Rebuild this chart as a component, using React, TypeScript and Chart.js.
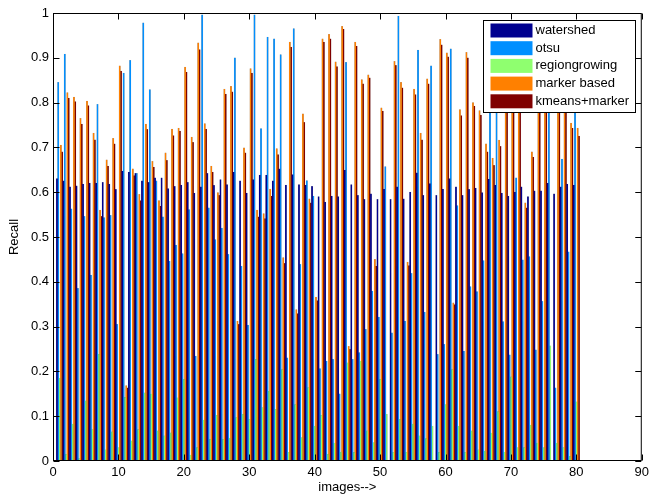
import React, { useEffect, useRef } from 'react';
import { Chart, registerables } from 'chart.js';

Chart.register(...registerables);

const imageIds: number[] = Array.from({ length: 80 }, (_, i) => i + 1);

const seriesNames = ['watershed', 'otsu', 'regiongrowing', 'marker based', 'kmeans+marker'];
const seriesColors = ['rgb(0,0,143)', 'rgb(0,143,255)', 'rgb(143,255,111)', 'rgb(255,128,0)', 'rgb(128,0,0)'];

const watershed = [
  0.63, 0.625, 0.612, 0.614, 0.618, 0.62, 0.62, 0.622, 0.618, 0.606,
  0.647, 0.645, 0.642, 0.625, 0.622, 0.632, 0.632, 0.608, 0.613, 0.616,
  0.622, 0.598, 0.612, 0.642, 0.615, 0.628, 0.617, 0.645, 0.625, 0.598,
  0.628, 0.638, 0.638, 0.625, 0.652, 0.616, 0.639, 0.617, 0.616, 0.613,
  0.59, 0.578, 0.591, 0.59, 0.649, 0.617, 0.593, 0.584, 0.596, 0.584,
  0.607, 0.584, 0.612, 0.585, 0.6, 0.643, 0.593, 0.619, 0.593, 0.607,
  0.63, 0.612, 0.593, 0.606, 0.609, 0.599, 0.629, 0.616, 0.598, 0.591,
  0.6, 0.612, 0.59, 0.603, 0.603, 0.62, 0.596, 0.612, 0.618, 0.616,
];

const otsu = [
  0.845, 0.908, 0.563, 0.385, 0.546, 0.415, 0.796, 0.543, 0.548, 0.305,
  0.866, 0.894, 0.642, 0.978, 0.829, 0.625, 0.545, 0.446, 0.482, 0.463,
  0.561, 0.234, 0.996, 0.565, 0.494, 0.52, 0.461, 0.9, 0.435, 0.303,
  0.996, 0.742, 0.946, 0.942, 0.907, 0.23, 0.965, 0.439, 0.626, 0.591,
  0.206, 0.223, 0.227, 0.15, 0.89, 0.227, 0.242, 0.294, 0.379, 0.321,
  0.657, 0.286, 0.993, 0.312, 0.419, 0.917, 0.332, 0.882, 0.238, 0.26,
  0.92, 0.57, 0.245, 0.389, 0.378, 0.447, 0.88, 0.86, 0.311, 0.237,
  0.632, 0.449, 0.456, 0.248, 0.356, 0.9, 0.163, 0.674, 0.467, 0.8,
];

const regiongrowing = [
  0.185, 0.015, 0.082, 0.005, 0.134, 0.07, 0.238, 0.025, 0.065, 0.03,
  0.142, 0.045, 0.07, 0.152, 0.149, 0.067, 0.056, 0.063, 0.141, 0.182,
  0.013, 0.03, 0.091, 0.048, 0.102, 0.048, 0.051, 0.097, 0.104, 0.093,
  0.227, 0.119, 0.156, 0.115, 0.204, 0.019, 0.126, 0.052, 0.164, 0.078,
  0.102, 0.015, 0.04, 0.02, 0.219, 0.019, 0.223, 0.067, 0.041, 0.182,
  0.104, 0.019, 0.093, 0.019, 0.082, 0.056, 0.05, 0.078, 0.019, 0.126,
  0.204, 0.078, 0.019, 0.067, 0.025, 0.022, 0.062, 0.11, 0.02, 0.188,
  0.03, 0.03, 0.08, 0.04, 0.03, 0.257, 0.04, 0.03, 0.01, 0.132,
];

const markerBased = [
  0.705, 0.822, 0.812, 0.765, 0.803, 0.732, 0.56, 0.672, 0.72, 0.882,
  0.168, 0.652, 0.595, 0.752, 0.669, 0.581, 0.688, 0.741, 0.743, 0.879,
  0.723, 0.933, 0.753, 0.658, 0.599, 0.83, 0.836, 0.312, 0.699, 0.876,
  0.56, 0.552, 0.607, 0.697, 0.454, 0.935, 0.338, 0.775, 0.585, 0.366,
  0.942, 0.952, 0.891, 0.97, 0.256, 0.935, 0.851, 0.862, 0.45, 0.788,
  0, 0.892, 0.845, 0.444, 0.83, 0.732, 0.853, 0, 0.941, 0.911,
  0.353, 0.784, 0.912, 0.8, 0.782, 0.708, 0.676, 0.716, 0.92, 0.9,
  0.94, 0.576, 0.69, 0.88, 0.86, 0, 0.92, 0.87, 0.754, 0.743,
];

const kmeansMarker = [
  0.69, 0.81, 0.802, 0.752, 0.793, 0.717, 0.546, 0.658, 0.708, 0.87,
  0.163, 0.637, 0.581, 0.74, 0.656, 0.569, 0.671, 0.726, 0.736, 0.868,
  0.711, 0.918, 0.741, 0.645, 0.593, 0.819, 0.824, 0.305, 0.688, 0.866,
  0.545, 0.541, 0.591, 0.684, 0.441, 0.924, 0.329, 0.756, 0.576, 0.358,
  0.935, 0.942, 0.88, 0.964, 0.249, 0.926, 0.842, 0.855, 0.435, 0.781,
  0, 0.883, 0.833, 0.436, 0.818, 0.717, 0.842, 0, 0.929, 0.902,
  0.349, 0.771, 0.9, 0.792, 0.772, 0.69, 0.66, 0.702, 0.91, 0.89,
  0.93, 0.565, 0.678, 0.87, 0.85, 0, 0.91, 0.86, 0.743, 0.725,
];

const seriesValues = [watershed, otsu, regiongrowing, markerBased, kmeansMarker];

const xMin = 0;
const xMax = 90;
const xStep = 10;
const yMin = 0;
const yMax = 1;
const yStep = 0.1;
const xTitle = 'images-->';
const yTitle = 'Recall';

const FONT = "'Liberation Sans', Arial, Helvetica, sans-serif";

const framePlugin = {
  id: 'matlabFrame',
  afterDatasetsDraw(chart: any) {
    const { ctx, chartArea: a, scales } = chart;
    ctx.save();
    ctx.strokeStyle = '#000';
    ctx.lineWidth = 1;
    const L = a.left + 0.5;
    const R = a.right - 0.5;
    const T = a.top + 0.5;
    const B = a.bottom - 0.5;
    ctx.strokeRect(L, T, R - L, B - T);
    const tl = 6;
    ctx.beginPath();
    for (const t of scales.x.ticks) {
      const px = Math.round(scales.x.getPixelForValue(t.value)) + 0.5;
      ctx.moveTo(px, B); ctx.lineTo(px, B - tl);
      ctx.moveTo(px, T); ctx.lineTo(px, T + tl);
    }
    for (const t of scales.y.ticks) {
      const py = Math.round(scales.y.getPixelForValue(t.value)) + 0.5;
      ctx.moveTo(L, py); ctx.lineTo(L + tl, py);
      ctx.moveTo(R, py); ctx.lineTo(R - tl, py);
    }
    ctx.stroke();

    // legend
    const bw = 152;
    const bh = 92;
    const bx = Math.round(a.right - 7 - bw) + 0.5;
    const by = Math.round(a.top + 7) + 0.5;
    ctx.fillStyle = '#fff';
    ctx.fillRect(bx, by, bw, bh);
    ctx.strokeStyle = '#000';
    ctx.strokeRect(bx, by, bw, bh);
    ctx.font = `13px ${FONT}`;
    ctx.textBaseline = 'middle';
    ctx.textAlign = 'left';
    chart.data.datasets.forEach((ds: any, i: number) => {
      const cy = by + 10 + i * 17.7;
      ctx.fillStyle = ds.backgroundColor;
      ctx.fillRect(bx + 7, cy - 7, 42, 14);
      ctx.fillStyle = '#000';
      ctx.fillText(ds.label, bx + 52, cy);
    });
    ctx.restore();
  },
};

export default function App() {
  const ref = useRef<HTMLCanvasElement | null>(null);
  useEffect(() => {
    if (!ref.current) return;
    const chart = new Chart(ref.current, {
      type: 'bar',
      data: {
        datasets: seriesNames.map((name, si) => ({
          label: name,
          data: imageIds.map((id, i) => ({ x: id, y: seriesValues[si][i] })),
          backgroundColor: seriesColors[si],
          borderColor: 'rgba(0,0,0,0.35)',
          borderWidth: 0.25,
          borderSkipped: 'bottom',
          inflateAmount: 0.4,
          categoryPercentage: 1.0,
          barPercentage: 1.0,
        })),
      },
      options: {
        responsive: false,
        animation: false,
        events: [],
        layout: { padding: { top: 13, right: 3, left: 0, bottom: 0 } },
        plugins: { legend: { display: false }, tooltip: { enabled: false } },
        scales: {
          x: {
            type: 'linear',
            min: xMin,
            max: xMax,
            offset: false,
            grid: { display: false, drawTicks: false, offset: false },
            border: { display: false },
            ticks: {
              stepSize: xStep,
              color: '#000',
              font: { family: FONT, size: 13 },
              padding: 4,
              maxRotation: 0,
              autoSkip: false,
            },
            title: {
              display: true,
              text: xTitle,
              color: '#000',
              font: { family: FONT, size: 13 },
              padding: { top: 0, bottom: 1 },
            },
            afterFit: (s: any) => { s.height = 35; },
          },
          y: {
            type: 'linear',
            min: yMin,
            max: yMax,
            grid: { display: false, drawTicks: false },
            border: { display: false },
            ticks: {
              stepSize: yStep,
              color: '#000',
              font: { family: FONT, size: 13 },
              padding: 4,
              callback: (v: any) => String(Number(Number(v).toFixed(1))),
            },
            title: {
              display: true,
              text: yTitle,
              color: '#000',
              font: { family: FONT, size: 13 },
              padding: { top: 7, bottom: 0 },
            },
            afterFit: (s: any) => { s.width = 53; },
          },
        },
      },
      plugins: [framePlugin],
    } as any);
    return () => chart.destroy();
  }, []);
  return (
    <div style={{ position: 'fixed', left: 0, top: 0, width: 653, height: 496, background: '#fff' }}>
      <canvas ref={ref} width={653} height={496} style={{ display: 'block', width: 653, height: 496 }} />
    </div>
  );
}
